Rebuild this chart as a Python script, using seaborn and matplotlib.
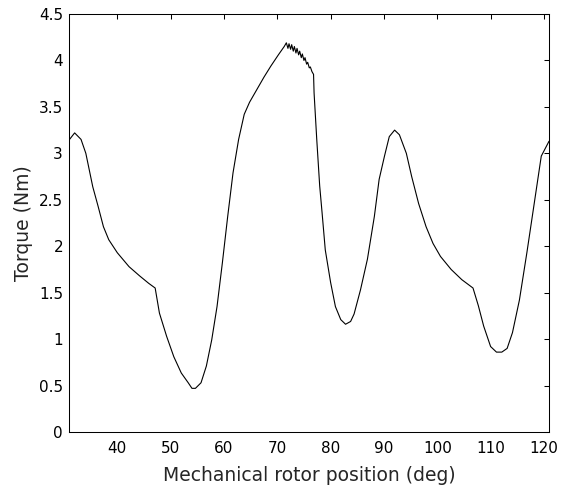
import matplotlib
matplotlib.use("Agg")
import matplotlib.pyplot as plt
import seaborn as sns
import pandas as pd

position = [31.05, 32.0, 33.2, 34.1, 35.4, 36.4, 37.4, 38.4, 40.0, 42.2, 44.2, 45.9, 47.1,
            47.9, 49.25, 50.6, 52.0, 53.3, 54.0, 54.65, 55.7, 56.7, 57.7, 58.7, 59.7, 60.7,
            61.7, 62.75, 63.8, 64.8, 66.1, 67.5, 68.8, 70.2, 71.3, 71.7,
            72.0, 72.2, 72.5, 72.7, 73.0, 73.2, 73.5, 73.7, 74.0, 74.2, 74.5, 74.7, 75.0, 75.2,
            75.5, 75.7, 76.0, 76.2, 76.5, 76.8,
            76.9, 77.4, 77.95, 78.4, 79.0, 80.0, 80.9, 81.9, 82.8, 83.75, 84.4, 85.6, 86.9,
            88.2, 89.1, 90.1, 91.0, 92.0, 92.9, 94.2, 95.2, 96.5, 97.9, 99.2, 100.6, 102.6,
            104.6, 106.7,
            107.7, 108.7, 110.0, 111.1, 112.1, 113.1, 114.1, 115.4, 116.8, 118.1, 119.5, 120.95]
torque = [3.15, 3.22, 3.15, 3.0, 2.64, 2.43, 2.21, 2.07, 1.93, 1.78, 1.68, 1.60, 1.55,
          1.28, 1.03, 0.81, 0.635, 0.53, 0.47, 0.47, 0.53, 0.71, 0.99, 1.35, 1.82, 2.32,
          2.79, 3.15, 3.42, 3.55, 3.68, 3.82, 3.94, 4.06, 4.15, 4.19,
          4.13, 4.18, 4.12, 4.17, 4.10, 4.15, 4.08, 4.13, 4.06, 4.10, 4.03, 4.07, 4.00, 4.03,
          3.96, 3.98, 3.92, 3.93, 3.88, 3.85,
          3.65, 3.15, 2.65, 2.36, 1.96, 1.61, 1.35, 1.21, 1.16, 1.19, 1.27, 1.53, 1.86,
          2.32, 2.72, 2.97, 3.18, 3.25, 3.20, 3.0, 2.75, 2.46, 2.21, 2.03, 1.89, 1.75,
          1.64, 1.55,
          1.36, 1.14, 0.92, 0.86, 0.86, 0.90, 1.07, 1.42, 1.93, 2.43, 2.97, 3.13]

df = pd.DataFrame({"position": position, "torque": torque})

sns.set_style("white")
plt.rcParams["font.family"] = ["DejaVu Sans"]

fig = plt.figure(figsize=(5.65, 4.88), dpi=100)
ax = fig.add_axes([69.3/565, 1 - 432/488, (549-69.3)/565, (432-14)/488])
sns.lineplot(data=df, x="position", y="torque", ax=ax, color="black", linewidth=0.8,
             sort=False, estimator=None)
ax.set_xlim(31.0, 120.95)
ax.set_ylim(0, 4.5)
ax.set_xticks([40, 50, 60, 70, 80, 90, 100, 110, 120])
ax.set_yticks([0, 0.5, 1, 1.5, 2, 2.5, 3, 3.5, 4, 4.5])
ax.set_yticklabels(["0", "0.5", "1", "1.5", "2", "2.5", "3", "3.5", "4", "4.5"])
ax.tick_params(direction="in", top=True, right=True, length=3.6, width=0.75,
               labelsize=11, colors="black")
ax.tick_params(axis="x", pad=6.5)
ax.tick_params(axis="y", pad=4.5)
for s in ax.spines.values():
    s.set_color("black")
    s.set_linewidth(0.75)
ax.set_xlabel("Mechanical rotor position (deg)", fontsize=13.5, labelpad=7)
ax.set_ylabel("Torque (Nm)", fontsize=13.5, labelpad=4)
fig.savefig("out.png", dpi=100, facecolor="white")
